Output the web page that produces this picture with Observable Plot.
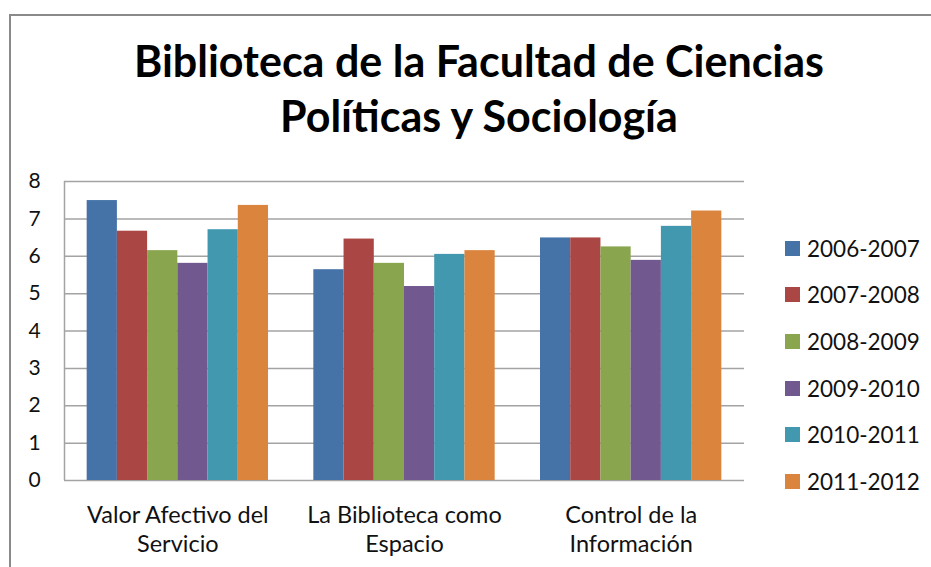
<!DOCTYPE html>
<html>
<head>
<meta charset="utf-8">
<script src="https://cdn.jsdelivr.net/npm/d3@7"></script>
<script src="https://cdn.jsdelivr.net/npm/@observablehq/plot@0.6"></script>
<style>
  html, body { margin: 0; padding: 0; background: #fff; }
  #wrap { position: relative; width: 931px; height: 567px; overflow: hidden; font-family: Lato, "Open Sans", sans-serif; }
  #frame { position: absolute; left: 9px; top: 14px; width: 940px; height: 600px; border-left: 2px solid #8a8a8a; border-top: 2px solid #8a8a8a; }
  #title { position: absolute; left: 0; width: 958px; top: 33px; text-align: center; font-weight: 700; font-size: 43px; line-height: 55px; color: #000; }
  #chart { position: absolute; left: 0; top: 160px; }
  #legend { position: absolute; left: 785px; top: 225px; }
  .item { display: flex; align-items: center; height: 46.6px; font-size: 22.5px; color: #111; }
  .sw { width: 15px; height: 15px; margin-right: 7px; }
</style>
</head>
<body>
<div id="wrap">
  <div id="frame"></div>
  <div id="title">Biblioteca de la Facultad de Ciencias<br>Políticas y Sociología</div>
  <div id="chart"></div>
  <div id="legend"></div>
</div>
<script>
const categories = ["Valor Afectivo del\nServicio", "La Biblioteca como\nEspacio", "Control de la\nInformación"];
const series = ["2006-2007", "2007-2008", "2008-2009", "2009-2010", "2010-2011", "2011-2012"];
const colors = ["#4572A7", "#AA4643", "#89A54E", "#71588F", "#4198AF", "#DB843D"];
const values2006 = [7.49, 5.64, 6.49];
const values2007 = [6.67, 6.46, 6.49];
const values2008 = [6.15, 5.81, 6.25];
const values2009 = [5.81, 5.19, 5.89];
const values2010 = [6.71, 6.05, 6.80];
const values2011 = [7.36, 6.15, 7.21];
const yTicks = [0, 1, 2, 3, 4, 5, 6, 7, 8];

const seriesValues = [values2006, values2007, values2008, values2009, values2010, values2011];
const outer = 0.1, inner = 0.8; // band layout within each category step
const data = [];
categories.forEach((c, i) => {
  series.forEach((s, j) => {
    const w = inner / series.length;
    data.push({cat: c, series: s, value: seriesValues[j][i],
      x1: i + outer + j * w, x2: i + outer + (j + 1) * w});
  });
});
const catCenters = categories.map((c, i) => i + 0.5);

const chart = Plot.plot({
  width: 931,
  height: 407,
  marginLeft: 64,
  marginRight: 187,
  marginTop: 21,
  marginBottom: 87,
  style: {fontFamily: "Lato, 'Open Sans', sans-serif", color: "#111", background: "transparent", overflow: "visible"},
  x: {type: "linear", domain: [0, categories.length], axis: null},
  y: {domain: [0, 8], axis: null},
  color: {domain: series, range: colors},
  marks: [
    Plot.ruleY(yTicks, {stroke: "#a3a3a3", strokeWidth: 1.5}),
    Plot.ruleX([0], {y1: 0, y2: 8, stroke: "#a3a3a3", strokeWidth: 1.5}),
    Plot.rectY(data, {x1: "x1", x2: "x2", y1: 0, y2: "value", fill: "series", inset: 0}),
    Plot.axisY(yTicks, {label: null, tickSize: 0, tickPadding: 25, fontSize: 21, textAnchor: "middle", dx: -5, tickFormat: d => d}),
    Plot.axisX(catCenters, {label: null, tickSize: 0, tickPadding: 22, fontSize: 23.5, lineHeight: 1.24, tickFormat: (d, i) => categories[i]})
  ]
});
document.getElementById("chart").appendChild(chart);

const legend = document.getElementById("legend");
series.forEach((s, j) => {
  const it = document.createElement("div");
  it.className = "item";
  const sw = document.createElement("div");
  sw.className = "sw";
  sw.style.background = colors[j];
  const t = document.createElement("span");
  t.textContent = s;
  it.appendChild(sw); it.appendChild(t);
  legend.appendChild(it);
});
</script>
</body>
</html>
